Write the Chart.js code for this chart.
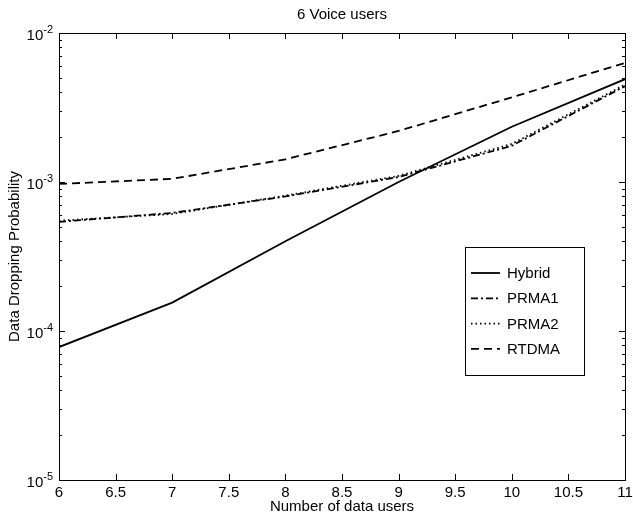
<!DOCTYPE html>
<html lang="en">
<head>
  <meta charset="UTF-8" />
  <title>6 Voice users</title>
  <script src="https://cdn.jsdelivr.net/npm/chart.js"></script>
  <style>
    html, body { margin: 0; padding: 0; background: #fff; }
  </style>
</head>
<body>
  <canvas id="chart" width="633" height="521"></canvas>

  <script>
    // Values
    const dataUsers = [6, 7, 8, 9, 10, 11];
    const hybrid = [7.8e-5, 1.55e-4, 4.0e-4, 1.0e-3, 2.35e-3, 4.9e-3];
    const prma1  = [5.4e-4, 6.2e-4, 8.0e-4, 1.08e-3, 1.75e-3, 4.4e-3];
    const prma2  = [5.5e-4, 6.1e-4, 8.1e-4, 1.1e-3, 1.8e-3, 4.5e-3];
    const rtdma  = [9.7e-4, 1.05e-3, 1.42e-3, 2.2e-3, 3.7e-3, 6.3e-3];
    const seriesNames = ['Hybrid', 'PRMA1', 'PRMA2', 'RTDMA'];
    const yDecades = [-5, -4, -3, -2];

    const FONT = '"Liberation Sans", Arial, Helvetica, sans-serif';

    function pts(vals) {
      return dataUsers.map((x, i) => ({ x: x, y: vals[i] }));
    }

    function ds(label, vals, dash) {
      return {
        label: label,
        data: pts(vals),
        borderColor: '#000',
        borderWidth: 1.8,
        borderDash: dash,
        pointRadius: 0,
        tension: 0,
        fill: false
      };
    }

    // frame, inward ticks, y labels with exponents, legend box
    const matlabLook = {
      id: 'matlabLook',
      afterDraw(chart) {
        const { ctx, chartArea: a, scales: { x, y } } = chart;
        ctx.save();
        ctx.strokeStyle = '#000';
        ctx.lineWidth = 1;
        ctx.strokeRect(a.left + 0.5, a.top + 0.5, a.right - a.left, a.bottom - a.top);

        // x ticks top and bottom
        ctx.beginPath();
        x.ticks.forEach(t => {
          const px = Math.round(x.getPixelForValue(t.value)) + 0.5;
          ctx.moveTo(px, a.bottom); ctx.lineTo(px, a.bottom - 6);
          ctx.moveTo(px, a.top); ctx.lineTo(px, a.top + 6);
        });
        // y ticks left and right (major + minor)
        yDecades.forEach((e, i) => {
          const last = i === yDecades.length - 1;
          for (let k = 1; k <= (last ? 1 : 9); k++) {
            const v = k * Math.pow(10, e);
            const py = Math.round(y.getPixelForValue(v)) + 0.5;
            const len = k === 1 ? 6 : 3;
            ctx.moveTo(a.left, py); ctx.lineTo(a.left + len, py);
            ctx.moveTo(a.right, py); ctx.lineTo(a.right - len, py);
          }
        });
        ctx.stroke();

        // y labels 10^e
        ctx.fillStyle = '#000';
        ctx.textBaseline = 'alphabetic';
        ctx.textAlign = 'left';
        yDecades.forEach(e => {
          const py = y.getPixelForValue(Math.pow(10, e));
          const exp = String(e);
          ctx.font = '11px ' + FONT;
          const ew = ctx.measureText(exp).width;
          ctx.font = '15px ' + FONT;
          const bw = ctx.measureText('10').width;
          const right = a.left - 6;
          ctx.fillText('10', right - ew - bw, py + 7);
          ctx.font = '11px ' + FONT;
          ctx.fillText(exp, right - ew, py + 0);
        });

        // legend
        const bx = 465.5, by = 247.5, bw = 119, bh = 128;
        ctx.fillStyle = '#fff';
        ctx.fillRect(bx, by, bw, bh);
        ctx.strokeRect(bx, by, bw, bh);
        ctx.font = '15px ' + FONT;
        ctx.textBaseline = 'middle';
        chart.data.datasets.forEach((d, i) => {
          const ly = 273 + i * 25.3;
          ctx.beginPath();
          ctx.setLineDash(d.borderDash || []);
          ctx.lineWidth = d.borderWidth;
          ctx.moveTo(471, ly); ctx.lineTo(500, ly);
          ctx.stroke();
          ctx.setLineDash([]);
          ctx.fillStyle = '#000';
          ctx.fillText(d.label, 507, ly + 1);
        });
        ctx.restore();
      }
    };

    new Chart(document.getElementById('chart'), {
      type: 'line',
      data: {
        datasets: [
          ds(seriesNames[0], hybrid, []),
          ds(seriesNames[1], prma1, [7, 3, 2, 3]),
          ds(seriesNames[2], prma2, [1.5, 3]),
          ds(seriesNames[3], rtdma, [8, 5])
        ]
      },
      options: {
        responsive: false,
        animation: false,
        devicePixelRatio: 1,
        layout: { padding: { left: 0, right: 0, top: 0, bottom: 0 } },
        plugins: {
          legend: { display: false },
          tooltip: { enabled: false },
          title: {
            display: true,
            fullSize: false,
            text: '6 Voice users',
            color: '#000',
            font: { family: FONT, size: 15, weight: 'normal' },
            padding: { top: 6, bottom: 9 }
          }
        },
        scales: {
          x: {
            type: 'linear',
            min: 6,
            max: 11,
            grid: { display: false, drawTicks: false },
            border: { display: false },
            ticks: {
              stepSize: 0.5,
              autoSkip: false,
              maxRotation: 0,
              color: '#000',
              padding: 4,
              font: { family: FONT, size: 15 },
              callback: v => String(v)
            },
            title: {
              display: true,
              text: 'Number of data users',
              color: '#000',
              font: { family: FONT, size: 15 },
              padding: { top: 0, bottom: 5 }
            },
            afterFit(scale) {
              scale.height = 41;
              scale.paddingLeft = 0;
              scale.paddingRight = 8;
            }
          },
          y: {
            type: 'logarithmic',
            min: 1e-5,
            max: 1e-2,
            grid: { display: false, drawTicks: false },
            border: { display: false },
            ticks: { display: false },
            title: {
              display: true,
              text: 'Data Dropping Probability',
              color: '#000',
              font: { family: FONT, size: 15 },
              padding: { top: 6, bottom: 0 }
            },
            afterFit(scale) { scale.width = 59; }
          }
        }
      },
      plugins: [matlabLook]
    });
  </script>
</body>
</html>
